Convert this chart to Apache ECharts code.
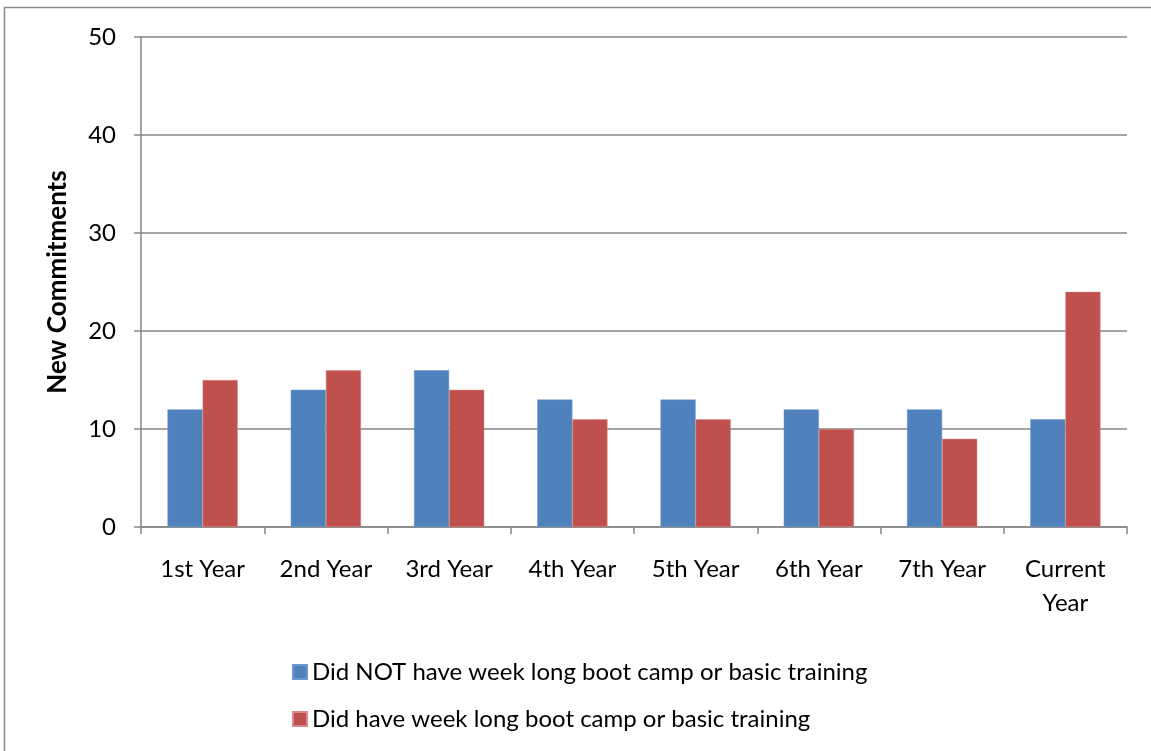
<!DOCTYPE html>
<html><head><meta charset="utf-8">
<script src="https://cdn.jsdelivr.net/npm/echarts@6/dist/echarts.min.js"></script>
<style>html,body{margin:0;padding:0;background:#fff}#c{width:1151px;height:751px}</style>
</head><body><div id="c"></div>
<script>
const categories = ['1st Year','2nd Year','3rd Year','4th Year','5th Year','6th Year','7th Year','Current\nYear'];
const seriesNames = ['Did NOT have week long boot camp or basic training','Did have week long boot camp or basic training'];
const notBootCamp = [12,14,16,13,13,12,12,11];
const hadBootCamp = [15,16,14,11,11,10,9,24];
const yTicks = {min:0,max:50,interval:10};
const FONT = 'Lato';
const chart = echarts.init(document.getElementById('c'));
chart.setOption({
  animation:false,
  backgroundColor:'#fff',
  textStyle:{fontFamily:FONT},
  graphic:[{type:'rect',shape:{x:4.5,y:7.5,width:1200,height:800},style:{fill:'none',stroke:'#8a8a8a',lineWidth:1.5}}],
  grid:{left:141,right:24,top:37,bottom:224},
  legend:{orient:'vertical',left:287,top:655,itemWidth:14,itemHeight:14,itemGap:23,icon:'rect',
    textStyle:{fontFamily:FONT,fontSize:24,color:'#000'},data:seriesNames},
  xAxis:{type:'category',data:categories,
    axisLine:{lineStyle:{color:'#868686',width:1.5}},
    axisTick:{show:true,length:7,lineStyle:{color:'#868686',width:1.5}},
    axisLabel:{fontFamily:FONT,fontSize:24,color:'#000',margin:25,lineHeight:34,interval:0}},
  yAxis:{type:'value',min:yTicks.min,max:yTicks.max,interval:yTicks.interval,
    name:'New Commitments',nameLocation:'middle',nameGap:70,nameRotate:90,
    nameTextStyle:{fontFamily:FONT,fontSize:26,fontWeight:'bold',color:'#000'},
    axisLine:{show:true,lineStyle:{color:'#868686',width:1.5}},
    axisTick:{show:true,length:7,lineStyle:{color:'#868686',width:1.5}},
    axisLabel:{fontFamily:FONT,fontSize:24,color:'#000',margin:25},
    splitLine:{lineStyle:{color:'#868686',width:1.5}}},
  series:[
    {name:seriesNames[0],type:'bar',data:notBootCamp,barGap:'0%',barCategoryGap:'43%',
     itemStyle:{color:'#4F81BD',borderColor:'#6e98cc',borderWidth:0.5}},
    {name:seriesNames[1],type:'bar',data:hadBootCamp,barGap:'0%',barCategoryGap:'43%',
     itemStyle:{color:'#C0504D',borderColor:'#d88a88',borderWidth:0.5}}
  ]
});
</script></body></html>
